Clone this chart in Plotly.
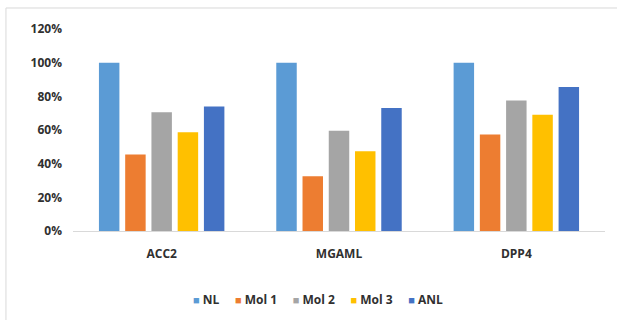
import plotly.graph_objects as go

categories = ["ACC2", "MGAML", "DPP4"]
series_names = ["NL", "Mol 1", "Mol 2", "Mol 3", "ANL"]
nl = [1.00, 1.00, 1.00]
mol1 = [0.455, 0.325, 0.573]
mol2 = [0.705, 0.596, 0.775]
mol3 = [0.586, 0.474, 0.69]
anl = [0.74, 0.73, 0.856]
colors = ["#5B9BD5", "#ED7D31", "#A5A5A5", "#FFC000", "#4472C4"]
tick_vals = [0, 0.2, 0.4, 0.6, 0.8, 1.0, 1.2]
tick_text = ["0%", "20%", "40%", "60%", "80%", "100%", "120%"]

fig = go.Figure()
for name, vals, c in zip(series_names, [nl, mol1, mol2, mol3, anl], colors):
    fig.add_trace(go.Bar(name=name, x=categories, y=vals, marker=dict(color=c, line=dict(width=0))))

font = dict(family="Open Sans, Lato, sans-serif", size=12, color="#303030", weight="bold")

# compact legend built as a single text annotation
legend_parts = []
for name, c in zip(series_names, colors):
    legend_parts.append(f'<span style="color:{c};font-size:11px">■</span> {name}')
legend_text = "&nbsp;&nbsp;&nbsp;&nbsp;&nbsp;".join(legend_parts)

fig.update_layout(
    width=617, height=320,
    margin=dict(l=73, r=12, t=29, b=88.5),
    paper_bgcolor="white", plot_bgcolor="white",
    barmode="group", bargap=0.26, bargroupgap=0.22,
    font=font,
    showlegend=False,
    xaxis=dict(showgrid=False, showline=True, linecolor="#D9D9D9", linewidth=1,
               ticks="", ticklabelstandoff=12, tickfont=font),
    yaxis=dict(range=[0, 1.2], tickvals=tick_vals, ticktext=tick_text, showgrid=False,
               zeroline=False, showline=False, ticks="", ticklabelstandoff=10, tickfont=font),
    annotations=[dict(text=legend_text, xref="paper", yref="paper", x=0.46, y=-0.34,
                      xanchor="center", yanchor="middle", showarrow=False, font=font)],
    shapes=[
        dict(type="line", xref="paper", yref="paper", x0=-0.126, x1=1.03, y0=1.104, y1=1.104,
             line=dict(color="#D9D9D9", width=1)),
        dict(type="line", xref="paper", yref="paper", x0=-0.126, x1=-0.126, y0=1.104, y1=-0.45,
             line=dict(color="#D9D9D9", width=1)),
    ],
)
fig.write_html("out.html", config={"displayModeBar": False},
               post_script="document.body.style.margin='0';document.body.style.overflow='hidden';")
